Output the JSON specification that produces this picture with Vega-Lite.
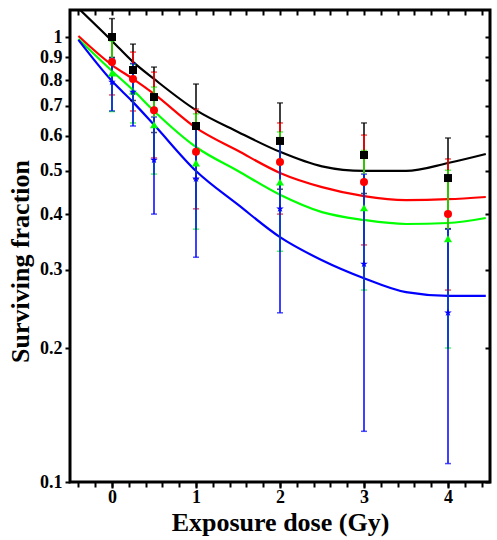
{
  "$schema": "https://vega.github.io/schema/vega-lite/v6.json",
  "width": 420,
  "height": 472,
  "autosize": {"type": "none"},
  "padding": {"left": 70, "top": 10, "right": 7, "bottom": 58},
  "background": "white",
  "datasets": {
    "pts": [
      {"series": "S1", "dose": 0, "sf": 1.0, "lo": 0.9, "hi": 1.1},
      {"series": "S1", "dose": 0.25, "sf": 0.843, "lo": 0.72, "hi": 0.964},
      {"series": "S1", "dose": 0.5, "sf": 0.733, "lo": 0.61, "hi": 0.856},
      {"series": "S1", "dose": 1, "sf": 0.631, "lo": 0.48, "hi": 0.784},
      {"series": "S1", "dose": 2, "sf": 0.584, "lo": 0.455, "hi": 0.711},
      {"series": "S1", "dose": 3, "sf": 0.543, "lo": 0.445, "hi": 0.641},
      {"series": "S1", "dose": 4, "sf": 0.482, "lo": 0.371, "hi": 0.593},
      {"series": "S2", "dose": 0, "sf": 0.879, "lo": 0.741, "hi": 1.0},
      {"series": "S2", "dose": 0.25, "sf": 0.805, "lo": 0.682, "hi": 0.925},
      {"series": "S2", "dose": 0.5, "sf": 0.685, "lo": 0.535, "hi": 0.834},
      {"series": "S2", "dose": 1, "sf": 0.552, "lo": 0.411, "hi": 0.689},
      {"series": "S2", "dose": 2, "sf": 0.524, "lo": 0.4, "hi": 0.641},
      {"series": "S2", "dose": 3, "sf": 0.472, "lo": 0.341, "hi": 0.602},
      {"series": "S2", "dose": 4, "sf": 0.4, "lo": 0.27, "hi": 0.532},
      {"series": "S3", "dose": 0, "sf": 0.83, "lo": 0.68, "hi": 0.98},
      {"series": "S3", "dose": 0.25, "sf": 0.756, "lo": 0.641, "hi": 0.87},
      {"series": "S3", "dose": 0.5, "sf": 0.635, "lo": 0.492, "hi": 0.772},
      {"series": "S3", "dose": 1, "sf": 0.521, "lo": 0.37, "hi": 0.672},
      {"series": "S3", "dose": 2, "sf": 0.472, "lo": 0.33, "hi": 0.612},
      {"series": "S3", "dose": 3, "sf": 0.413, "lo": 0.27, "hi": 0.556},
      {"series": "S3", "dose": 4, "sf": 0.352, "lo": 0.2, "hi": 0.502},
      {"series": "S4", "dose": 0, "sf": 0.792, "lo": 0.682, "hi": 0.897},
      {"series": "S4", "dose": 0.25, "sf": 0.752, "lo": 0.631, "hi": 0.872},
      {"series": "S4", "dose": 0.5, "sf": 0.529, "lo": 0.4, "hi": 0.661},
      {"series": "S4", "dose": 1, "sf": 0.48, "lo": 0.32, "hi": 0.64},
      {"series": "S4", "dose": 2, "sf": 0.411, "lo": 0.24, "hi": 0.58},
      {"series": "S4", "dose": 3, "sf": 0.309, "lo": 0.13, "hi": 0.492},
      {"series": "S4", "dose": 4, "sf": 0.24, "lo": 0.11, "hi": 0.37}
    ],
    "fit": [
      {"series": "S1", "dose": -0.4, "sf": 1.16},
      {"series": "S1", "dose": 0, "sf": 0.98},
      {"series": "S1", "dose": 0.25, "sf": 0.879},
      {"series": "S1", "dose": 0.5, "sf": 0.805},
      {"series": "S1", "dose": 1, "sf": 0.685},
      {"series": "S1", "dose": 1.5, "sf": 0.612},
      {"series": "S1", "dose": 2, "sf": 0.552},
      {"series": "S1", "dose": 2.5, "sf": 0.512},
      {"series": "S1", "dose": 3, "sf": 0.5},
      {"series": "S1", "dose": 3.5, "sf": 0.5},
      {"series": "S1", "dose": 4, "sf": 0.521},
      {"series": "S1", "dose": 4.45, "sf": 0.546},
      {"series": "S2", "dose": -0.4, "sf": 1.005},
      {"series": "S2", "dose": 0, "sf": 0.865},
      {"series": "S2", "dose": 0.25, "sf": 0.805},
      {"series": "S2", "dose": 0.5, "sf": 0.745},
      {"series": "S2", "dose": 1, "sf": 0.625},
      {"series": "S2", "dose": 1.5, "sf": 0.555},
      {"series": "S2", "dose": 2, "sf": 0.495},
      {"series": "S2", "dose": 2.5, "sf": 0.46},
      {"series": "S2", "dose": 3, "sf": 0.439},
      {"series": "S2", "dose": 3.5, "sf": 0.43},
      {"series": "S2", "dose": 4, "sf": 0.432},
      {"series": "S2", "dose": 4.45, "sf": 0.437},
      {"series": "S3", "dose": -0.4, "sf": 0.99},
      {"series": "S3", "dose": 0, "sf": 0.839},
      {"series": "S3", "dose": 0.25, "sf": 0.76},
      {"series": "S3", "dose": 0.5, "sf": 0.682},
      {"series": "S3", "dose": 1, "sf": 0.566},
      {"series": "S3", "dose": 1.5, "sf": 0.5},
      {"series": "S3", "dose": 2, "sf": 0.442},
      {"series": "S3", "dose": 2.5, "sf": 0.404},
      {"series": "S3", "dose": 3, "sf": 0.388},
      {"series": "S3", "dose": 3.5, "sf": 0.38},
      {"series": "S3", "dose": 4, "sf": 0.382},
      {"series": "S3", "dose": 4.45, "sf": 0.392},
      {"series": "S4", "dose": -0.4, "sf": 0.985},
      {"series": "S4", "dose": 0, "sf": 0.796},
      {"series": "S4", "dose": 0.25, "sf": 0.714},
      {"series": "S4", "dose": 0.5, "sf": 0.635},
      {"series": "S4", "dose": 1, "sf": 0.5},
      {"series": "S4", "dose": 1.5, "sf": 0.42},
      {"series": "S4", "dose": 2, "sf": 0.355},
      {"series": "S4", "dose": 2.5, "sf": 0.315},
      {"series": "S4", "dose": 3, "sf": 0.287},
      {"series": "S4", "dose": 3.5, "sf": 0.267},
      {"series": "S4", "dose": 4, "sf": 0.262},
      {"series": "S4", "dose": 4.45, "sf": 0.262}
    ]
  },
  "encoding": {
    "color": {
      "field": "series",
      "type": "nominal",
      "scale": {"domain": ["S1", "S2", "S3", "S4"], "range": ["#000000", "#ff0000", "#00ff00", "#0000ff"]},
      "legend": null
    }
  },
  "layer": [
    {
      "data": {"name": "fit"},
      "mark": {"type": "line", "strokeWidth": 2.2, "interpolate": "monotone", "clip": true},
      "encoding": {
        "x": {
          "field": "dose",
          "type": "quantitative",
          "scale": {"domain": [-0.5, 4.5], "nice": false, "zero": false},
          "axis": {
            "orient": "top",
            "labels": false,
            "title": null,
            "tickSize": -5,
            "values": [-0.4, -0.2, 0, 0.2, 0.4, 0.6, 0.8, 1, 1.2, 1.4, 1.6, 1.8, 2, 2.2, 2.4, 2.6, 2.8, 3, 3.2, 3.4, 3.6, 3.8, 4, 4.2, 4.4]
          }
        },
        "y": {
          "field": "sf",
          "type": "quantitative",
          "scale": {"type": "log", "domain": [0.1, 1.15], "nice": false},
          "axis": {
            "orient": "right",
            "labels": false,
            "title": null,
            "tickSize": -5,
            "values": [0.1, 0.2, 0.3, 0.4, 0.5, 0.6, 0.7, 0.8, 0.9, 1]
          }
        },
        "detail": {"field": "series"}
      }
    },
    {
      "data": {"name": "pts"},
      "encoding": {
        "x": {
          "field": "dose",
          "type": "quantitative",
          "scale": {"domain": [-0.5, 4.5], "nice": false, "zero": false},
          "axis": {
            "orient": "bottom",
            "labels": false,
            "title": null,
            "tickSize": 5,
            "values": [-0.4, -0.2, 0, 0.2, 0.4, 0.6, 0.8, 1, 1.2, 1.4, 1.6, 1.8, 2, 2.2, 2.4, 2.6, 2.8, 3, 3.2, 3.4, 3.6, 3.8, 4, 4.2, 4.4]
          }
        }
      },
      "layer": [
        {
          "mark": {"type": "tick", "orient": "horizontal", "size": 6, "thickness": 1.5},
          "encoding": {
            "y": {"field": "lo", "type": "quantitative", "scale": {"type": "log", "domain": [0.1, 1.15], "nice": false}, "axis": null}
          }
        },
        {
          "mark": {"type": "tick", "orient": "horizontal", "size": 6, "thickness": 1.5},
          "encoding": {
            "y": {"field": "hi", "type": "quantitative", "scale": {"type": "log", "domain": [0.1, 1.15], "nice": false}, "axis": null}
          }
        }
      ]
    },
    {
      "data": {"name": "pts"},
      "encoding": {
        "x": {
          "field": "dose",
          "type": "quantitative",
          "scale": {"domain": [-0.5, 4.5], "nice": false, "zero": false},
          "axis": {
            "orient": "bottom",
            "title": "Exposure dose (Gy)",
            "values": [0, 1, 2, 3, 4],
            "format": "d",
            "tickSize": 6,
            "labelPadding": 0,
            "titleBaseline": "alphabetic",
            "titleY": 48
          }
        }
      },
      "layer": [
        {
          "mark": {"type": "rule", "strokeWidth": 1.5},
          "encoding": {
            "y": {
              "field": "lo",
              "type": "quantitative",
              "scale": {"type": "log", "domain": [0.1, 1.15], "nice": false},
              "axis": {
                "title": "Surviving fraction",
                "values": [0.1, 0.2, 0.3, 0.4, 0.5, 0.6, 0.7, 0.8, 0.9, 1],
                "format": ".1~f",
                "labelPadding": 3,
                "titlePadding": 6,
                "titleY": 251
              }
            },
            "y2": {"field": "hi"}
          }
        },
        {
          "mark": {"type": "point", "filled": true, "opacity": 1},
          "encoding": {
            "y": {
              "field": "sf",
              "type": "quantitative",
              "scale": {"type": "log", "domain": [0.1, 1.15], "nice": false},
              "axis": {
                "title": "Surviving fraction",
                "values": [0.1, 0.2, 0.3, 0.4, 0.5, 0.6, 0.7, 0.8, 0.9, 1],
                "format": ".1~f",
                "labelPadding": 3,
                "titlePadding": 6,
                "titleY": 251
              }
            },
            "shape": {
              "field": "series",
              "type": "nominal",
              "scale": {
                "domain": ["S1", "S2", "S3", "S4"],
                "range": ["square", "circle", "triangle-up", "M0,-1L0.2245,-0.309L0.951,-0.309L0.363,0.118L0.588,0.809L0,0.382L-0.588,0.809L-0.363,0.118L-0.951,-0.309L-0.2245,-0.309Z"]
              },
              "legend": null
            },
            "size": {
              "field": "series",
              "type": "nominal",
              "scale": {"domain": ["S1", "S2", "S3", "S4"], "range": [64, 64, 80, 110]},
              "legend": null
            }
          }
        }
      ]
    }
  ],
  "resolve": {"axis": {"x": "independent", "y": "independent"}},
  "config": {
    "view": {"stroke": "black", "strokeWidth": 3},
    "axis": {
      "domain": false,
      "grid": false,
      "tickColor": "black",
      "tickWidth": 2,
      "tickSize": 5,
      "labelFont": "Liberation Serif",
      "labelFontWeight": "bold",
      "labelFontSize": 18,
      "labelColor": "black",
      "labelFlush": false,
      "labelOverlap": false,
      "titleFont": "Liberation Serif",
      "titleFontWeight": "bold",
      "titleFontSize": 26,
      "titleColor": "black"
    }
  }
}
